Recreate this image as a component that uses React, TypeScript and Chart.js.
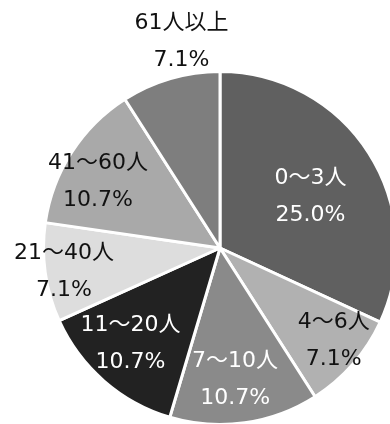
import React, { useEffect, useRef } from "react";
import { Chart, registerables } from "chart.js";

Chart.register(...registerables);

// ---- data ----
const categories = ["0～3人", "4～6人", "7～10人", "11～20人", "21～40人", "41～60人", "61人以上"];
const shares = [25.0, 7.1, 10.7, 10.7, 7.1, 10.7, 7.1];

// ---- styles ----
const sliceColors = ["#606060", "#b1b1b1", "#8a8a8a", "#222222", "#dddddd", "#a9a9a9", "#7e7e7e"];
const labelColors = ["#ffffff", "#111111", "#ffffff", "#ffffff", "#111111", "#111111", "#111111"];
// label placement: fraction of radius, and angular shift (degrees) from slice middle
const labelRadius = [0.588, 0.833, 0.751, 0.741, 0.894, 0.786, 1.187];
const labelShift = [3.2, -1.8, 1.5, 2.1, -0.5, -4.4, 5.7];
const FONT = '22px "DejaVu Sans", "Noto Sans CJK JP", sans-serif';
const LINE_GAP = 37;

const labelPlugin = {
  id: "sliceLabels",
  afterDatasetsDraw(chart: any) {
    const meta = chart.getDatasetMeta(0);
    const ctx = chart.ctx;
    ctx.save();
    ctx.font = FONT;
    ctx.textAlign = "center";
    ctx.textBaseline = "middle";
    meta.data.forEach((arc: any, i: number) => {
      const p = arc.getProps(["x", "y", "startAngle", "endAngle", "outerRadius"], true);
      const mid = (p.startAngle + p.endAngle) / 2 + (labelShift[i] * Math.PI) / 180;
      const r = p.outerRadius * labelRadius[i];
      const cx = p.x + Math.cos(mid) * r;
      const cy = p.y + Math.sin(mid) * r;
      ctx.fillStyle = labelColors[i];
      ctx.fillText(categories[i], cx, cy - LINE_GAP / 2);
      ctx.fillText(shares[i].toFixed(1) + "%", cx, cy + LINE_GAP / 2);
    });
    ctx.restore();
  },
};

export default function App() {
  const ref = useRef<HTMLCanvasElement | null>(null);
  useEffect(() => {
    if (!ref.current) return;
    const chart = new Chart(ref.current, {
      type: "pie",
      data: {
        labels: categories,
        datasets: [
          {
            data: shares,
            backgroundColor: sliceColors,
            borderColor: "#ffffff",
            borderWidth: 3,
          },
        ],
      },
      options: {
        responsive: false,
        animation: false,
        layout: { padding: { left: 42, top: 70, right: 2, bottom: 4 } },
        plugins: {
          legend: { display: false },
          tooltip: { enabled: false },
          title: { display: false },
        },
      },
      plugins: [labelPlugin],
    });
    return () => chart.destroy();
  }, []);
  return (
    <div
      style={{
        position: "fixed",
        left: 0,
        top: 0,
        width: 390,
        height: 424,
        overflow: "hidden",
        background: "#ffffff",
      }}
    >
      <canvas ref={ref} width={400} height={430} style={{ display: "block", width: 400, height: 430 }} />
    </div>
  );
}
